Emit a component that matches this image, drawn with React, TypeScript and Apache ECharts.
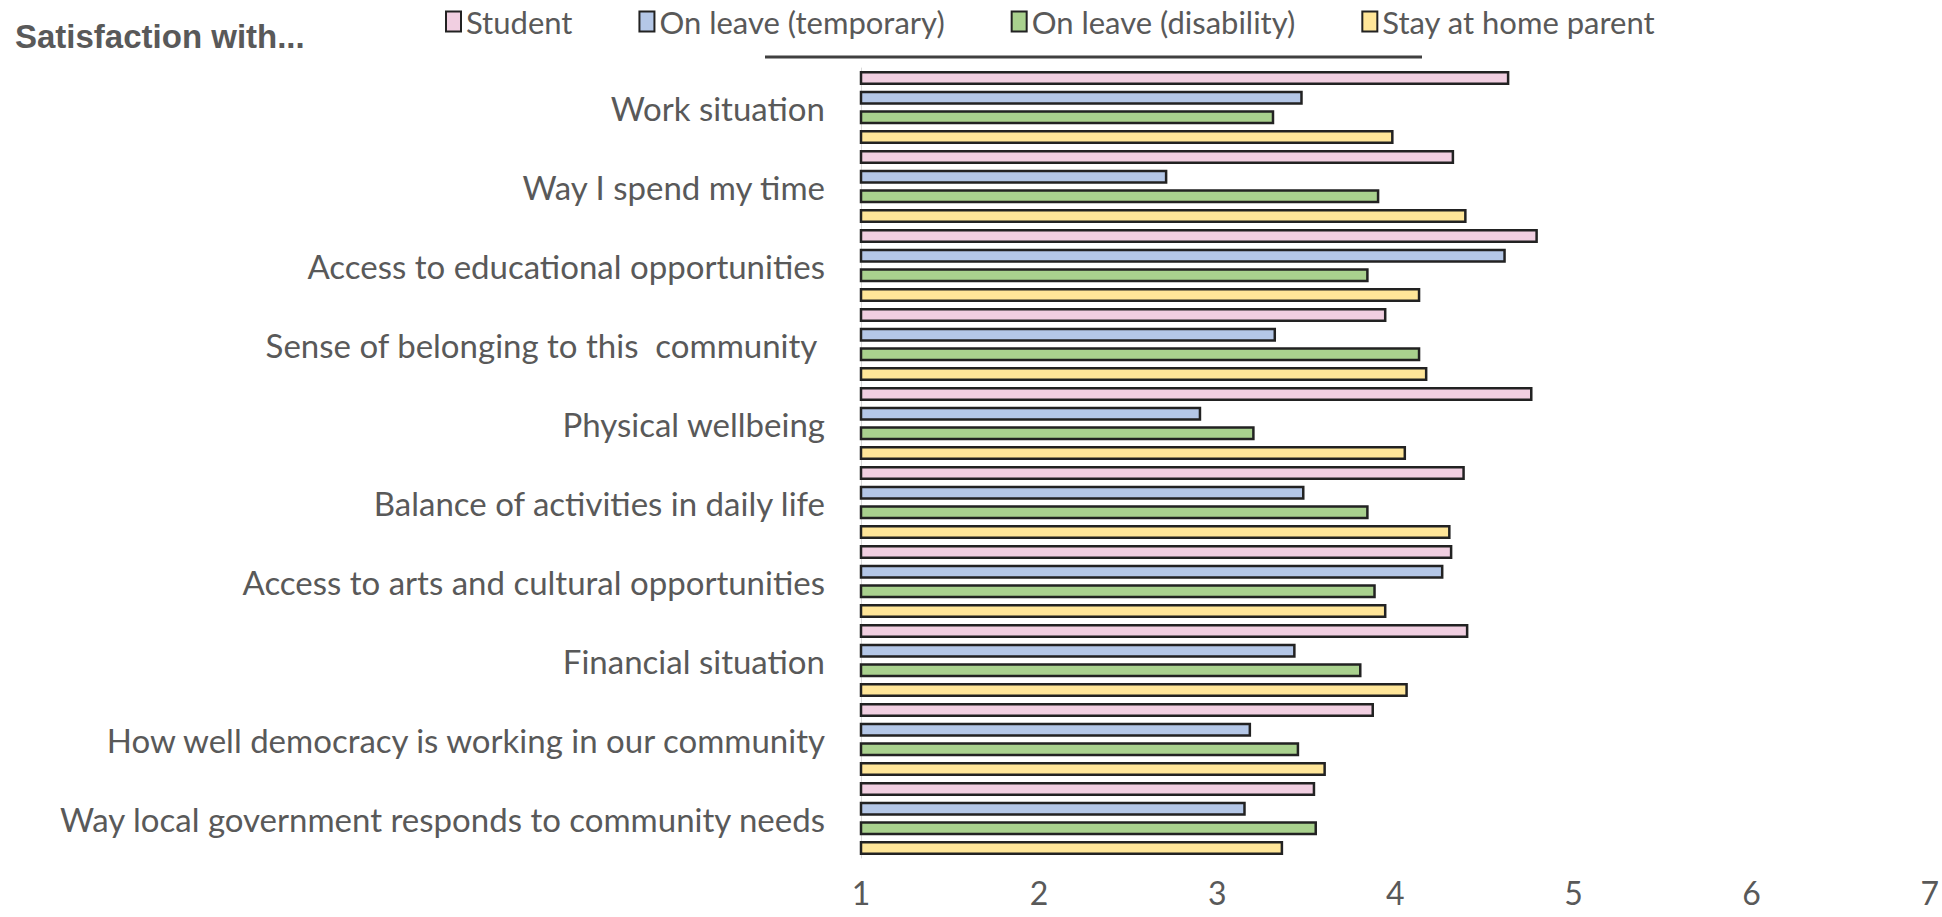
import React, { useEffect, useRef } from "react";
import * as echarts from "echarts";

const categories = [
  "Work situation",
  "Way I spend my time",
  "Access to educational opportunities",
  "Sense of belonging to this  community ",
  "Physical wellbeing",
  "Balance of activities in daily life",
  "Access to arts and cultural opportunities",
  "Financial situation",
  "How well democracy is working in our community",
  "Way local government responds to community needs",
];

const seriesNames = ["Student", "On leave (temporary)", "On leave (disability)", "Stay at home parent"];

const student = [4.64, 4.33, 4.8, 3.95, 4.77, 4.39, 4.32, 4.41, 3.88, 3.55];
const onLeaveTemporary = [3.48, 2.72, 4.62, 3.33, 2.91, 3.49, 4.27, 3.44, 3.19, 3.16];
const onLeaveDisability = [3.32, 3.91, 3.85, 4.14, 3.21, 3.85, 3.89, 3.81, 3.46, 3.56];
const stayAtHomeParent = [3.99, 4.4, 4.14, 4.18, 4.06, 4.31, 3.95, 4.07, 3.61, 3.37];

const xTicks = [1, 2, 3, 4, 5, 6, 7];

const colors = ["#F1CFE1", "#B4C7E7", "#A9D18E", "#FFE699"];
const FONT = "Lato, 'Liberation Sans', sans-serif";

export default function App() {
  const ref = useRef<HTMLDivElement>(null);
  useEffect(() => {
    if (!ref.current) return;
    const chart = echarts.init(ref.current, undefined, { renderer: "svg" });
    const values = [student, onLeaveTemporary, onLeaveDisability, stayAtHomeParent];
    chart.setOption({
      animation: false,
      backgroundColor: "#ffffff",
      textStyle: { fontFamily: FONT },
      title: {
        text: "Satisfaction with...",
        left: 10,
        top: 15,
        textStyle: {
          fontFamily: "'Liberation Sans', Arial, sans-serif",
          fontWeight: "bold",
          fontSize: 33,
          color: "#595959",
        },
      },
      legend: {
        data: seriesNames,
        left: 440,
        top: 1,
        itemWidth: 15,
        itemHeight: 20,
        itemGap: 66,
        icon: "rect",
        textStyle: { fontFamily: FONT, fontSize: 31, color: "#595959", padding: [0, 0, 0, 0] },
      },
      grid: { left: 861, right: 11, top: 68, bottom: 59, containLabel: false },
      xAxis: {
        type: "value",
        min: xTicks[0],
        max: xTicks[xTicks.length - 1],
        interval: 1,
        axisLine: { show: false },
        axisTick: { show: false },
        splitLine: { show: false },
        axisLabel: {
          fontFamily: FONT,
          fontSize: 32,
          color: "#595959",
          margin: 18,
        },
      },
      yAxis: {
        type: "category",
        data: categories,
        inverse: true,
        axisLine: { show: true, lineStyle: { color: "#d9d9d9", width: 1 } },
        axisTick: { show: false },
        axisLabel: {
          fontFamily: FONT,
          fontSize: 33,
          color: "#595959",
          margin: 36,
        },
      },
      graphic: [
        {
          type: "line",
          shape: { x1: 765, y1: 57, x2: 1422, y2: 57 },
          style: { stroke: "#404040", lineWidth: 3 },
        },
      ],
      series: seriesNames.map((name, i) => ({
        name,
        type: "bar",
        data: values[i],
        barGap: "40%",
        barCategoryGap: "7.5%",
        itemStyle: { color: colors[i], borderColor: "#222222", borderWidth: 2.5 },
      })),
    });
    return () => chart.dispose();
  }, []);
  return (
    <div
      ref={ref}
      style={{ position: "fixed", left: 0, top: 0, width: 1942, height: 917 }}
    />
  );
}
